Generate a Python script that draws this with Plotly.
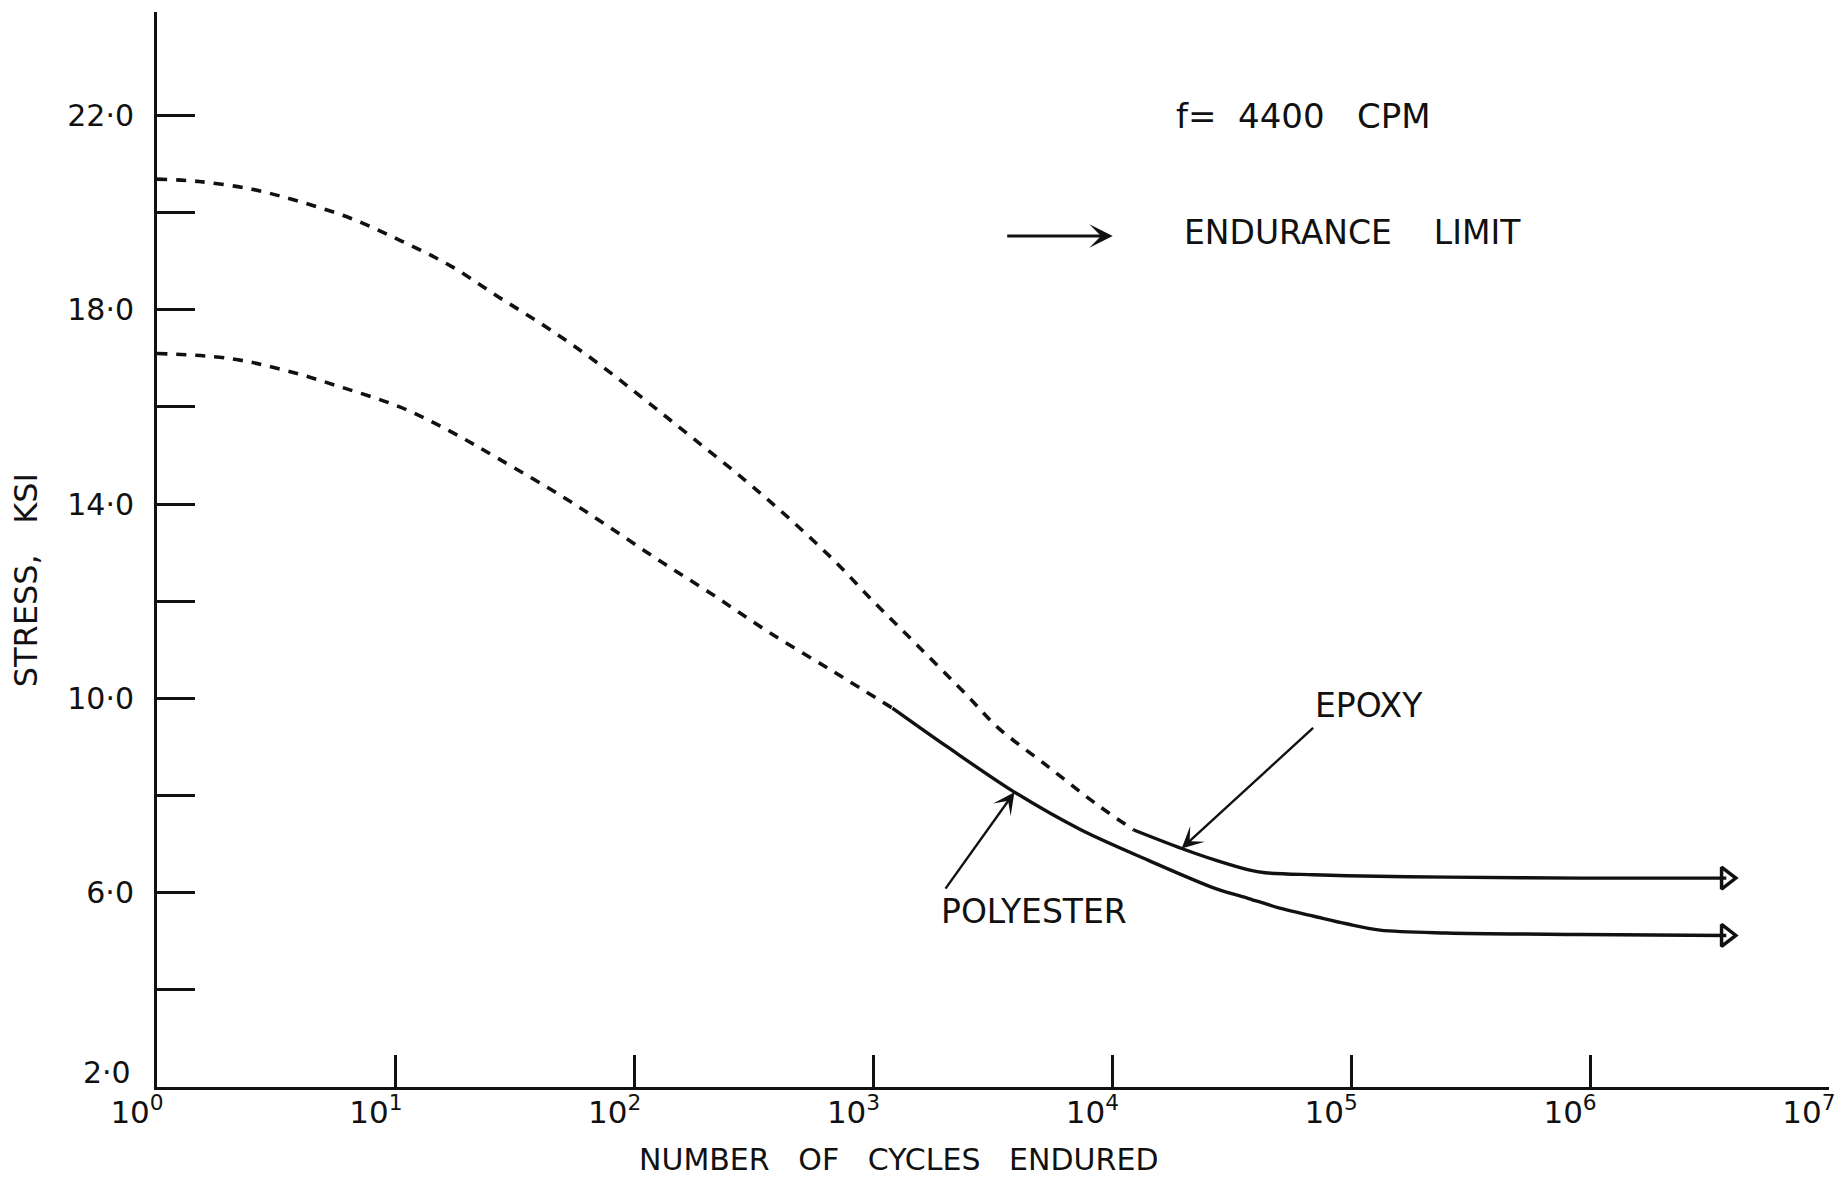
import math
import plotly.graph_objects as go

# ---------------- data ----------------
epoxy_cycles = [1, 1.5, 2.5, 4, 6.5, 10.5, 17, 27, 44, 71, 112, 178, 290, 440, 680,
                1020, 1550, 2500, 3300, 5400, 8700, 12300,
                19500, 27000, 37200, 43600, 69200, 95500, 251000, 912000, 3720000]
epoxy_stress = [20.69, 20.64, 20.48, 20.22, 19.88, 19.42, 18.90, 18.26, 17.60, 16.88, 16.12,
                15.33, 14.49, 13.72, 12.85, 11.95, 11.06, 10.03, 9.41, 8.59, 7.80, 7.29,
                6.91, 6.67, 6.47, 6.41, 6.37, 6.35, 6.32, 6.30, 6.30]
epoxy_solid_from = 12300      # dashed (extrapolated) below, solid above

poly_cycles = [1, 2, 3.4, 5.8, 10.5, 17, 27, 50, 76, 123, 204, 355, 680, 1200,
               2040, 3890, 7410, 14100, 26900, 37200, 51300, 69200, 95500, 132000,
               251000, 912000, 3720000]
poly_stress = [17.10, 17.00, 16.76, 16.42, 15.99, 15.49, 14.93, 14.15, 13.57, 12.88, 12.19,
               11.40, 10.55, 9.80, 9.00, 8.07, 7.29, 6.67, 6.09, 5.88, 5.67, 5.52, 5.36,
               5.23, 5.17, 5.14, 5.12]
poly_solid_from = 1200

x_tickvals = [1, 10, 100, 1000, 10000, 100000, 1000000, 10000000]
x_ticktext = ["10<sup>0</sup>", "10<sup>1</sup>", "10<sup>2</sup>", "10<sup>3</sup>",
              "10<sup>4</sup>", "10<sup>5</sup>", "10<sup>6</sup>", "10<sup>7</sup>"]
y_tickvals = [2, 4, 6, 8, 10, 12, 14, 16, 18, 20, 22]
# the "2·0" label sits a little above the axis corner; it is placed separately
y_ticktext = ["", "", "6·0", "", "10·0", "", "14·0", "", "18·0", "", "22·0"]
y_corner_label = "2·0"

INK = "#111111"
FONT = "DejaVu Sans"


def split(xs, ys, x0):
    i = xs.index(x0)
    return (xs[:i + 1], ys[:i + 1]), (xs[i:], ys[i:])


fig = go.Figure()
for xs, ys, x0 in [(epoxy_cycles, epoxy_stress, epoxy_solid_from),
                   (poly_cycles, poly_stress, poly_solid_from)]:
    (dx, dy), (sx, sy) = split(xs, ys, x0)
    fig.add_trace(go.Scatter(x=dx, y=dy, mode="lines",
                             line=dict(color=INK, width=3.6, dash="10px,9px",
                                       shape="spline", smoothing=1.0),
                             showlegend=False, hoverinfo="skip"))
    fig.add_trace(go.Scatter(x=sx, y=sy, mode="lines",
                             line=dict(color=INK, width=3.4, shape="spline", smoothing=0.9),
                             showlegend=False, hoverinfo="skip"))
    # endurance-limit arrowhead at the end of each curve
    fig.add_trace(go.Scatter(x=[xs[-1]], y=[ys[-1]], mode="markers",
                             marker=dict(symbol="triangle-right-open", size=19, color=INK,
                                         line=dict(width=3.5, color=INK)),
                             showlegend=False, hoverinfo="skip"))

# plot area geometry (pixels)
W, H = 1848, 1182
L, R, T, B = 157, 15, 12, 95
PW, PH = W - L - R, H - T - B


def px(xp):
    return (xp - L) / PW


def py(yp):
    return (H - B - yp) / PH


txt = dict(family=FONT, size=33, color=INK)
NB = "\u00a0"


def label(xp, yp, text, **kw):
    d = dict(x=px(xp), y=py(yp), xref="paper", yref="paper", text=text,
             xanchor="center", yanchor="middle", showarrow=False, font=txt)
    d.update(kw)
    return d


annotations = [
    label(1306, 116, "f=" + NB * 2 + "4400" + NB * 3 + "CPM", font=dict(family=FONT, size=34, color=INK)),
    label(1355, 232, "ENDURANCE" + NB * 4 + "LIMIT"),
    dict(x=px(1115), y=py(236), xref="paper", yref="paper", text="", showarrow=True,
         ax=-107, ay=0, arrowhead=3, arrowsize=1.3, arrowwidth=3, arrowcolor=INK),
    label(1372, 705, "EPOXY"),
    label(1036, 911, "POLYESTER"),
    # pointer arrows to the curves
    dict(x=math.log10(epoxy_cycles[22]), y=epoxy_stress[22], xref="x", yref="y", text="",
         showarrow=True, ax=133, ay=-122, arrowhead=3, arrowsize=1.5, arrowwidth=2.4,
         arrowcolor=INK),
    dict(x=math.log10(poly_cycles[15]), y=poly_stress[15], xref="x", yref="y", text="",
         showarrow=True, ax=-70, ay=98, arrowhead=3, arrowsize=1.5, arrowwidth=2.4,
         arrowcolor=INK),
    # corner tick label of the stress axis
    label(133, 1072, y_corner_label, xanchor="right",
          font=dict(family=FONT, size=30, color=INK)),
    # axis titles
    label(26, 580, "STRESS," + NB * 3 + "KSI", textangle=-90,
          font=dict(family=FONT, size=32, color=INK)),
    label(900, 1159, "NUMBER" + NB * 3 + "OF" + NB * 3 + "CYCLES" + NB * 3 + "ENDURED",
          font=dict(family=FONT, size=30, color=INK)),
]

fig.update_layout(
    width=W, height=H,
    margin=dict(l=L, r=R, t=T, b=B),
    paper_bgcolor="white", plot_bgcolor="white",
    showlegend=False,
    annotations=annotations,
    xaxis=dict(type="log", range=[0, 7.0005], tickvals=x_tickvals, ticktext=x_ticktext,
               ticks="inside", ticklen=32, tickwidth=2.5, tickcolor=INK,
               showline=True, linewidth=3, linecolor=INK, showgrid=False, zeroline=False,
               tickfont=dict(family=FONT, size=31, color=INK), ticklabelstandoff=-4,
               ticklabelshift=-20),
    yaxis=dict(range=[2, 24.13], tickvals=y_tickvals, ticktext=y_ticktext,
               ticks="inside", ticklen=38, tickwidth=2.5, tickcolor=INK,
               showline=True, linewidth=3, linecolor=INK, showgrid=False, zeroline=False,
               tickfont=dict(family=FONT, size=30, color=INK), ticklabelstandoff=14),
)

fig.write_html("out.html")
